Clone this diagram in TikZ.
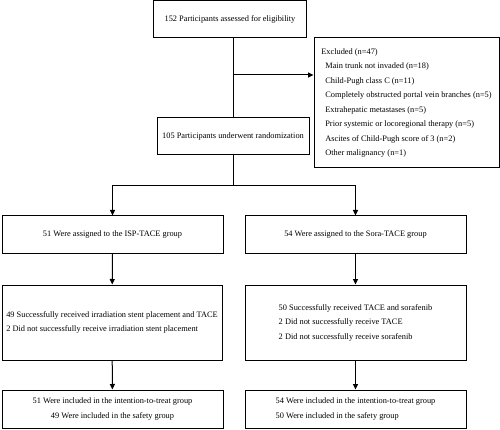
\documentclass[tikz,border=0pt]{standalone}
\usepackage{fontspec}
\setmainfont{Liberation Serif}
\usetikzlibrary{arrows.meta}
\tikzset{
box/.style={draw,line width=1pt,inner sep=0pt,align=center,font=\fontsize{8.35}{14.5}\selectfont},
arr/.style={-{Triangle[length=5.5pt,width=5pt]}}
}
\begin{document}
\begin{tikzpicture}[x=1pt,y=-1pt,line width=1pt]
\useasboundingbox (0,0) rectangle (500,430);
\path
(230,19.5) node[box,minimum width=153,minimum height=37](elig){152 Participants assessed for eligibility}
(233,136.5) node[box,minimum width=152,minimum height=37](rand){105 Participants underwent randomization}
(406.5,103) node[box,align=left,minimum width=185,minimum height=130](excl){Excluded (n=47)\\
\hspace*{4pt}Main trunk not invaded (n=18)\\
\hspace*{4pt}Child-Pugh class C (n=11)\\
\hspace*{4pt}Completely obstructed portal vein branches (n=5)\\
\hspace*{4pt}Extrahepatic metastases (n=5)\\
\hspace*{4pt}Prior systemic or locoregional therapy (n=5)\\
\hspace*{4pt}Ascites of Child-Pugh score of 3 (n=2)\\
\hspace*{4pt}Other malignancy (n=1)}
(112.5,234.5) node[box,minimum width=221,minimum height=37](isp){51 Were assigned to the ISP-TACE group}
(355.5,234.5) node[box,minimum width=221,minimum height=37](sora){54 Were assigned to the Sora-TACE group}
(112,322.5) node[box,align=left,minimum width=220,minimum height=75](ispd){49 Successfully received irradiation stent placement and TACE\\
2 Did not successfully receive irradiation stent placement}
(355.5,322.5) node[box,align=left,minimum width=221,minimum height=75](sorad){50 Successfully received TACE and sorafenib\\
2 Did not successfully receive TACE\\
2 Did not successfully receive sorafenib}
(112.5,409) node[box,minimum width=221,minimum height=38](ispf){51 Were included in the intention-to-treat group\\
49 Were included in the safety group}
(355.5,409) node[box,align=left,minimum width=221,minimum height=38](soraf){54 Were included in the intention-to-treat group\\
50 Were included in the safety group};
\coordinate (cut) at (233,75);
\coordinate (fork) at (233,186);
\path[draw] (rand.north|-elig.south)--(rand.north);
\path[draw,arr] (cut)--(cut-|excl.west);
\path[draw] (rand.south)--(fork);
\path[draw,arr] (fork)-|(isp.north);
\path[draw,arr] (fork)-|(sora.north);
\path[draw,arr] (isp)--(ispd);
\path[draw,arr] (sora)--(sorad);
\path[draw,arr] (ispd)--(ispf);
\path[draw,arr] (sorad)--(soraf);
\end{tikzpicture}
\end{document}
